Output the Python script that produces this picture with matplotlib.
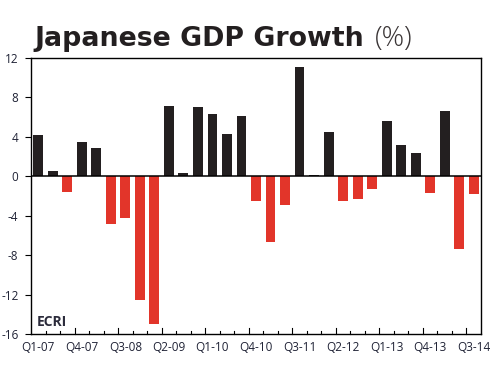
import matplotlib
matplotlib.use("Agg")
import matplotlib.pyplot as plt
import numpy as np

quarters = ["Q1-07","Q2-07","Q3-07","Q4-07","Q1-08","Q2-08","Q3-08","Q4-08",
            "Q1-09","Q2-09","Q3-09","Q4-09","Q1-10","Q2-10","Q3-10","Q4-10",
            "Q1-11","Q2-11","Q3-11","Q4-11","Q1-12","Q2-12","Q3-12","Q4-12",
            "Q1-13","Q2-13","Q3-13","Q4-13","Q1-14","Q2-14","Q3-14"]
growth = [4.2, 0.5, -1.6, 3.5, 2.9, -4.8, -4.2, -12.6,
          -15.0, 7.1, 0.3, 7.0, 6.3, 4.3, 6.1, -2.5,
          -6.7, -2.9, 11.1, 0.1, 4.5, -2.5, -2.3, -1.3,
          5.6, 3.2, 2.4, -1.7, 6.6, -7.4, -1.8]
yticks = [12, 8, 4, 0, -4, -8, -12, -16]

DARK = "#231f20"
RED = "#e2352a"
TXT = "#1f2235"

plt.rcParams['font.family'] = ['Open Sans', 'DejaVu Sans']

fig = plt.figure(figsize=(4.95, 3.75), dpi=100)
ax = fig.add_axes([31/495, 1-334/375, 450/495, 276/375])

x = np.arange(len(growth))
colors = [DARK if v >= 0 else RED for v in growth]
ax.bar(x, growth, width=0.68, color=colors, zorder=2)
ax.axhline(0, color="black", lw=1.1, zorder=3)

ax.set_xlim(-0.5, len(growth) - 0.5)
ax.set_ylim(-16, 12)
ax.set_yticks(yticks)
ax.set_yticklabels([str(t) for t in yticks], color=TXT, fontsize=8.5)
ax.tick_params(axis='y', direction='out', length=4, width=0.8, pad=5)

label_pos = x[::3]
ax.set_xticks(label_pos)
ax.set_xticklabels([quarters[i] for i in label_pos], color=TXT, fontsize=8.5)
ax.tick_params(axis='x', which='major', length=0, pad=5)
bounds = np.arange(0.5, len(growth) - 0.5, 1.0)
for b in bounds:
    k = int(b + 0.5)
    h = 0.022 if k % 3 == 0 else 0.012
    ax.plot([b, b], [0, h], transform=ax.get_xaxis_transform(), color="black", lw=0.8, clip_on=False, zorder=4)

for s in ax.spines.values():
    s.set_color("black")
    s.set_linewidth(1.0)

ax.text(0.013, 0.03, "ECRI", transform=ax.transAxes, fontsize=10, fontweight='bold', color="#2b2b3b", zorder=5)

t1 = fig.text(34/495, 1-46.5/375, "Japanese GDP Growth", fontsize=20, fontweight='bold',
              color=DARK, va='baseline', family='DejaVu Sans')
fig.canvas.draw()
r = fig.canvas.get_renderer()
w = t1.get_window_extent(r).width
t1.set_fontsize(20 * 328 / w)
fig.canvas.draw()
bb = t1.get_window_extent(r)
fig.text((bb.x1 + 11) / 495, 1-46.5/375, "(%)", fontsize=t1.get_fontsize() * 1.05, fontweight='light',
         color="#3a3536", va='baseline', family='Open Sans')

fig.savefig("out.png", dpi=100)
